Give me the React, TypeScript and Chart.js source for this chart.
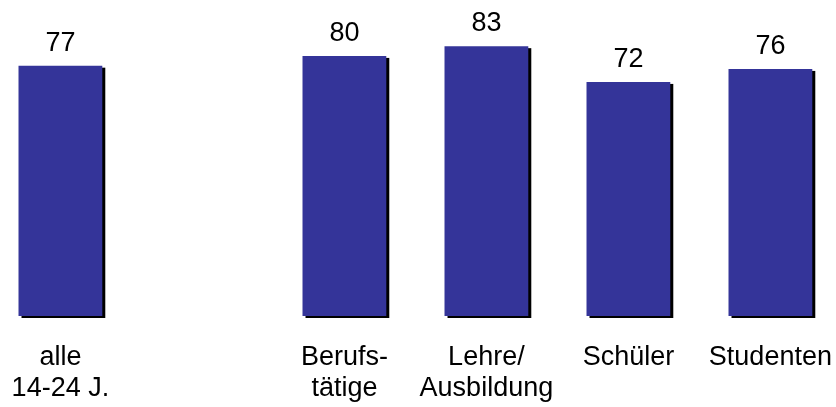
import React, { useEffect, useRef } from "react";
import { Chart, registerables } from "chart.js";

Chart.register(...registerables);

const categories: (string | string[])[] = [
  ["alle", "14-24 J."],
  "",
  ["Berufs-", "tätige"],
  ["Lehre/", "Ausbildung"],
  "Schüler",
  "Studenten",
];
const values: (number | null)[] = [77, null, 80, 83, 72, 76];

const BAR_COLOR = "#343499";
const FONT_FAMILY = "'Liberation Sans', Arial, sans-serif";
const FONT_SIZE = 27;

const barDecor = {
  id: "barDecor",
  beforeDatasetsDraw(chart: any) {
    const ctx = chart.ctx;
    const meta = chart.getDatasetMeta(0);
    ctx.save();
    ctx.fillStyle = "#000";
    meta.data.forEach((el: any, i: number) => {
      if (values[i] == null) return;
      const p = el.getProps(["x", "y", "base", "width"], true);
      ctx.fillRect(p.x - p.width / 2 + 3, p.y + 2, p.width, p.base - p.y);
    });
    ctx.restore();
  },
  afterDatasetsDraw(chart: any) {
    const ctx = chart.ctx;
    const meta = chart.getDatasetMeta(0);
    ctx.save();
    ctx.fillStyle = "#000";
    ctx.font = `${FONT_SIZE}px ${FONT_FAMILY}`;
    ctx.textAlign = "center";
    ctx.textBaseline = "alphabetic";
    meta.data.forEach((el: any, i: number) => {
      const v = values[i];
      if (v == null) return;
      const p = el.getProps(["x", "y"], true);
      ctx.fillText(String(v), p.x, p.y - 15);
    });
    ctx.restore();
  },
};

export default function App() {
  const ref = useRef<HTMLCanvasElement | null>(null);
  useEffect(() => {
    if (!ref.current) return;
    const chart = new Chart(ref.current, {
      type: "bar",
      data: {
        labels: categories,
        datasets: [
          {
            data: values,
            backgroundColor: BAR_COLOR,
            borderWidth: 0,
            barPercentage: 0.59,
            categoryPercentage: 1,
          },
        ],
      },
      options: {
        animation: false,
        responsive: false,
        layout: { padding: { left: 10.4, right: 20.6, top: 0, bottom: 0 } },
        plugins: {
          legend: { display: false },
          tooltip: { enabled: false },
        },
        scales: {
          x: {
            border: { display: false },
            grid: { display: false, drawTicks: false },
            ticks: {
              color: "#000",
              padding: 26,
              maxRotation: 0,
              autoSkip: false,
              font: { family: FONT_FAMILY, size: FONT_SIZE, lineHeight: 31 / FONT_SIZE },
            },
          },
          y: {
            display: false,
            min: 0,
            max: 97.2,
          },
        },
      },
      plugins: [barDecor],
    });
    return () => chart.destroy();
  }, []);
  return (
    <div
      style={{
        position: "fixed",
        left: 0,
        top: 0,
        width: 836,
        height: 407,
        overflow: "hidden",
        background: "#fff",
      }}
    >
      <canvas
        ref={ref}
        width={883}
        height={430}
        style={{ display: "block", position: "absolute", left: -21, top: 0 }}
      />
    </div>
  );
}
